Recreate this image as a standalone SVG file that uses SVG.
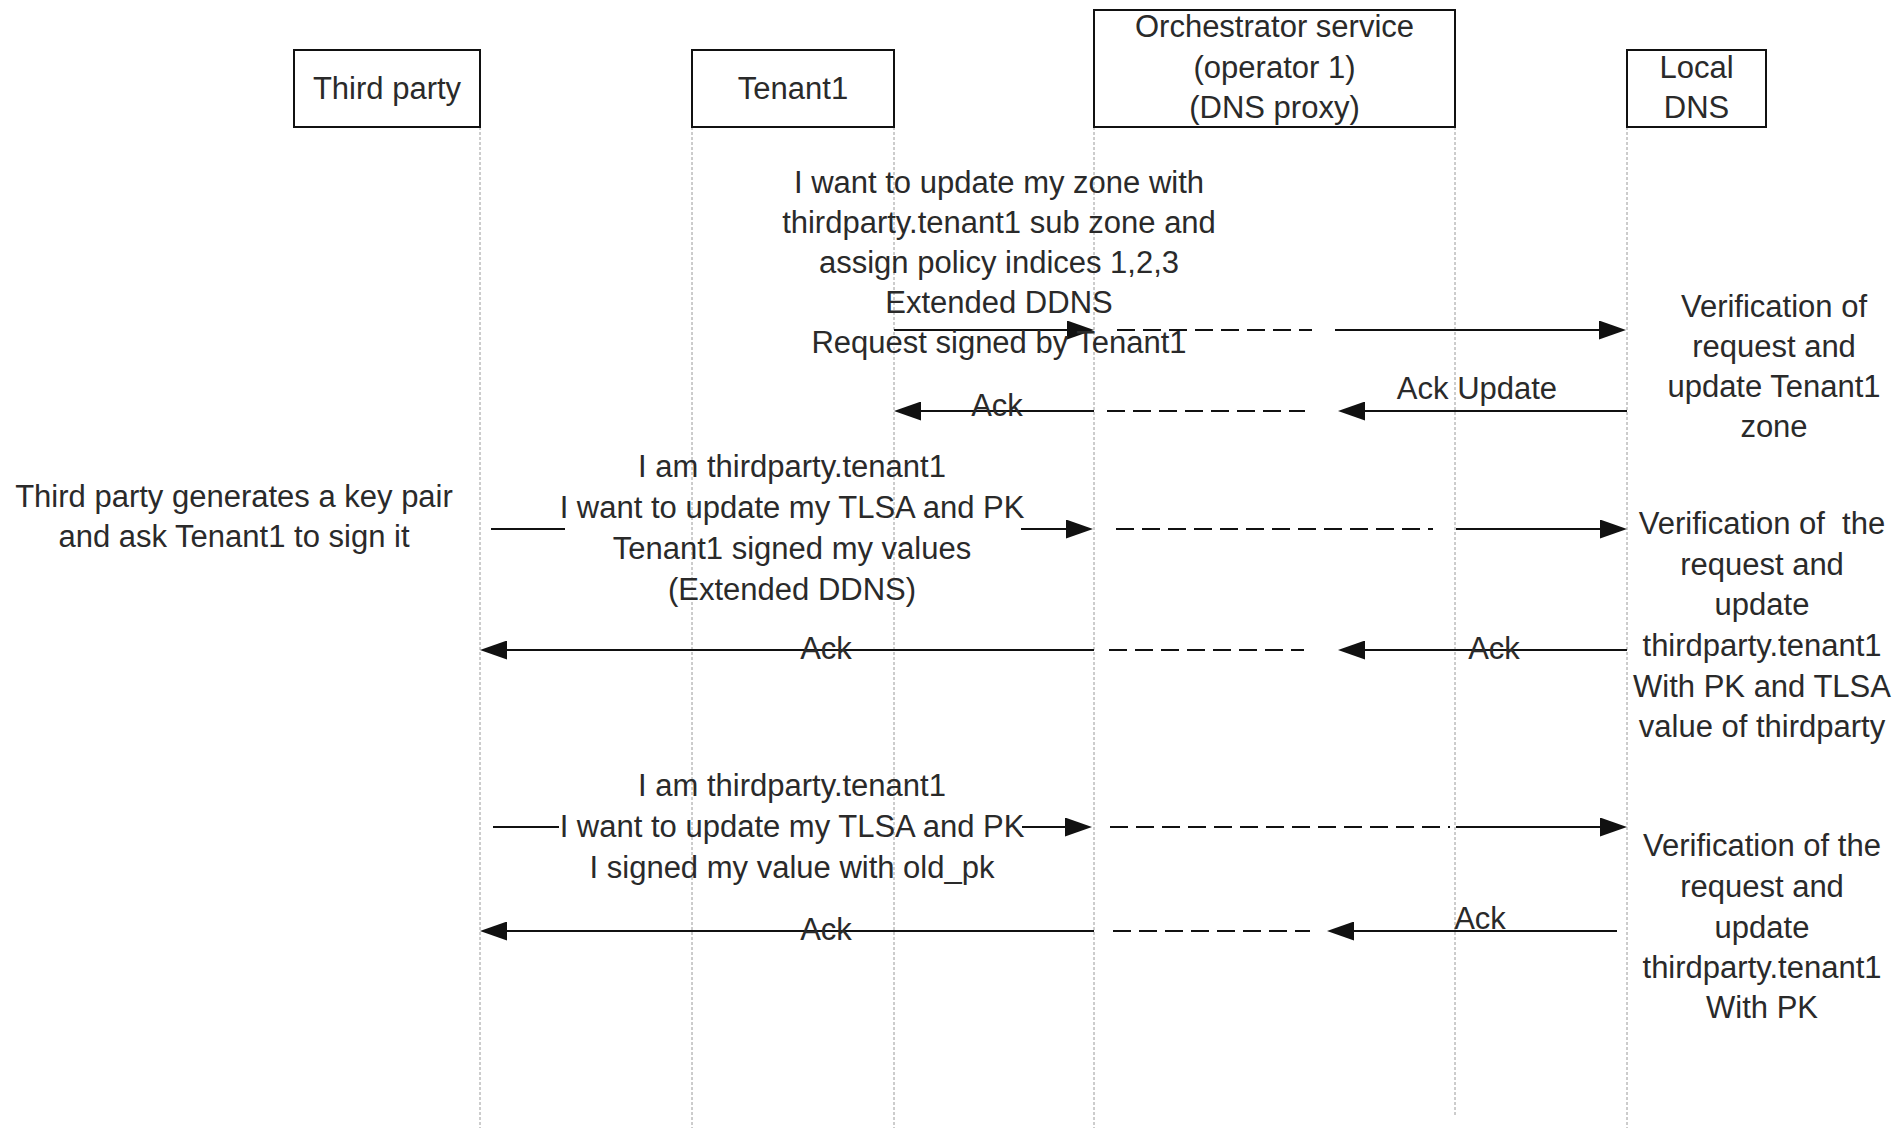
<svg xmlns="http://www.w3.org/2000/svg" width="1899" height="1130" viewBox="0 0 1899 1130">
<defs>
<style>
text{font-family:"Liberation Sans",Arial,sans-serif;font-size:31px;fill:#2a2a2a;text-anchor:middle}
.box{fill:#fff;stroke:#111;stroke-width:2}
.life{stroke:#9a9a9a;stroke-width:1;stroke-dasharray:3 2;fill:none}
.msg{stroke:#111;stroke-width:2.2;fill:none}
.dash{stroke:#111;stroke-width:2.2;stroke-dasharray:18 8;fill:none}
</style>
<marker id="ah" viewBox="0 0 27 19" refX="21" refY="9.5" markerWidth="27" markerHeight="19" markerUnits="userSpaceOnUse" orient="auto">
<path d="M0,0 L27,9.5 L0,19 Z" fill="#111"/>
</marker>
</defs>
<rect width="1899" height="1130" fill="#fff"/>
<g id="lifelines">
<line class="life" x1="480" y1="127" x2="480" y2="1128"/>
<line class="life" x1="692" y1="127" x2="692" y2="1128"/>
<line class="life" x1="894" y1="127" x2="894" y2="1128"/>
<line class="life" x1="1094" y1="127" x2="1094" y2="1128"/>
<line class="life" x1="1455" y1="127" x2="1455" y2="1117"/>
<line class="life" x1="1627" y1="127" x2="1627" y2="1128"/>
</g>
<g id="third-party">
<rect class="box" x="294" y="50" width="186" height="77"/>
<text x="387" y="99">Third party</text>
</g>
<g id="tenant1">
<rect class="box" x="692" y="50" width="202" height="77"/>
<text x="793" y="99">Tenant1</text>
</g>
<g id="orchestrator">
<rect class="box" x="1094" y="10" width="361" height="117"/>
<text x="1274.5" y="37">Orchestrator service</text>
<text x="1274.5" y="78">(operator 1)</text>
<text x="1274.5" y="118">(DNS proxy)</text>
</g>
<g id="local-dns">
<rect class="box" x="1627" y="50" width="139" height="77"/>
<text x="1696.5" y="78">Local</text>
<text x="1696.5" y="118">DNS</text>
</g>
<g id="connectors">
<line class="msg" x1="894" y1="330" x2="1088" y2="330" marker-end="url(#ah)"/>
<line class="dash" x1="1117" y1="330" x2="1312" y2="330"/>
<line class="msg" x1="1335" y1="330" x2="1620" y2="330" marker-end="url(#ah)"/>
<line class="msg" x1="1094" y1="411" x2="900" y2="411" marker-end="url(#ah)"/>
<line class="dash" x1="1107" y1="411" x2="1305" y2="411"/>
<line class="msg" x1="1627" y1="411" x2="1344" y2="411" marker-end="url(#ah)"/>
<line class="msg" x1="491" y1="529" x2="565" y2="529"/>
<line class="msg" x1="1021" y1="529" x2="1087" y2="529" marker-end="url(#ah)"/>
<line class="dash" x1="1116" y1="529" x2="1433" y2="529"/>
<line class="msg" x1="1456" y1="529" x2="1621" y2="529" marker-end="url(#ah)"/>
<line class="msg" x1="1094" y1="650" x2="486" y2="650" marker-end="url(#ah)"/>
<line class="dash" x1="1109" y1="650" x2="1304" y2="650"/>
<line class="msg" x1="1627" y1="650" x2="1344" y2="650" marker-end="url(#ah)"/>
<line class="msg" x1="493" y1="827" x2="559" y2="827"/>
<line class="msg" x1="1022" y1="827" x2="1086" y2="827" marker-end="url(#ah)"/>
<line class="dash" x1="1110" y1="827" x2="1450" y2="827"/>
<line class="msg" x1="1456" y1="827" x2="1621" y2="827" marker-end="url(#ah)"/>
<line class="msg" x1="1094" y1="931" x2="486" y2="931" marker-end="url(#ah)"/>
<line class="dash" x1="1113" y1="931" x2="1310" y2="931"/>
<line class="msg" x1="1617" y1="931" x2="1333" y2="931" marker-end="url(#ah)"/>
</g>
<g id="labels">
<text x="999" y="193">I want to update my zone with</text>
<text x="999" y="233">thirdparty.tenant1 sub zone and</text>
<text x="999" y="273">assign policy indices 1,2,3</text>
<text x="999" y="313">Extended DDNS</text>
<text x="999" y="353">Request signed by Tenant1</text>
<text x="1774" y="317">Verification of</text>
<text x="1774" y="357">request and</text>
<text x="1774" y="397">update Tenant1</text>
<text x="1774" y="437">zone</text>
<text x="1477" y="399">Ack Update</text>
<text x="997" y="416">Ack</text>
<text x="234" y="507">Third party generates a key pair</text>
<text x="234" y="547">and ask Tenant1 to sign it</text>
<text x="792" y="477">I am thirdparty.tenant1</text>
<text x="792" y="518">I want to update my TLSA and PK</text>
<text x="792" y="559">Tenant1 signed my values</text>
<text x="792" y="600">(Extended DDNS)</text>
<text x="1762" y="534" xml:space="preserve">Verification of  the</text>
<text x="1762" y="575">request and</text>
<text x="1762" y="615">update</text>
<text x="1762" y="656">thirdparty.tenant1</text>
<text x="1762" y="697">With PK and TLSA</text>
<text x="1762" y="737">value of thirdparty</text>
<text x="826" y="659">Ack</text>
<text x="1494" y="659">Ack</text>
<text x="792" y="796">I am thirdparty.tenant1</text>
<text x="792" y="837">I want to update my TLSA and PK</text>
<text x="792" y="878">I signed my value with old_pk</text>
<text x="1762" y="856">Verification of the</text>
<text x="1762" y="897">request and</text>
<text x="1762" y="938">update</text>
<text x="1762" y="978">thirdparty.tenant1</text>
<text x="1762" y="1018">With PK</text>
<text x="826" y="940">Ack</text>
<text x="1480" y="929">Ack</text>
</g>
</svg>
